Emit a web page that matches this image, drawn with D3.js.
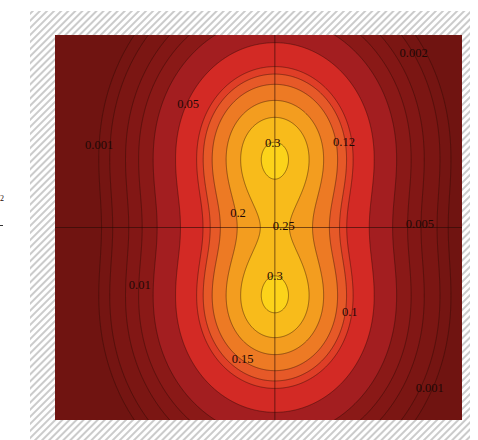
<!DOCTYPE html>
<html>
<head>
<meta charset="UTF-8">
<title>Contour plot</title>
<script src="https://d3js.org/d3.v7.min.js"></script>
<style>
  body { margin: 0; background: #fff; }
  svg { display: block; }
  .lbl { font-family: "Liberation Serif", "DejaVu Serif", serif; font-size: 12.5px; fill: #1e0805; }
</style>
</head>
<body>
<div id="chart"></div>
<script>
// axis ranges of the plot (data units)
const xDomain = [-4.23, 3.6];
const yDomain = [-3.7, 3.7];

// the two bumps of the surface
const peakX = [0, 0];
const peakY = [1.44, -1.44];
const peakHeight = [0.298, 0.298];
const spreadX = [1.0, 1.0];
const spreadY = [1.118, 1.118];

// contour levels and band colours (first colour = below lowest level)
const levels = [0.001, 0.002, 0.005, 0.01, 0.02, 0.05, 0.1, 0.12, 0.15, 0.2, 0.25, 0.3];
const bandColors = ["#701411", "#751512", "#7b1613", "#821715", "#8a1917", "#a31e20",
                    "#d32a25", "#df3e27", "#e65928", "#ed7a24", "#f39d1f", "#f8bb1b", "#fcd31a"];

// inline labels: text and where they sit (data units)
const labelText = ["0.001", "0.05", "0.3", "0.12", "0.002", "0.2", "0.25", "0.005", "0.01", "0.3", "0.1", "0.15", "0.001"];
const labelX = [-3.38, -1.67, -0.04, 1.33, 2.67, -0.71, 0.17, 2.79, -2.6, 0.0, 1.44, -0.62, 2.98];
const labelY = [1.58, 2.38, 1.62, 1.65, 3.35, 0.27, 0.02, 0.06, -1.1, -0.94, -1.62, -2.52, -3.08];

const width = 478, height = 440;
const plot = {left: 55, top: 35, right: 462, bottom: 420};

const svg = d3.select("#chart").append("svg")
  .attr("width", width).attr("height", height);

// hatched backdrop
const defs = svg.append("defs");
const pat = defs.append("pattern")
  .attr("id", "hatch")
  .attr("patternUnits", "userSpaceOnUse")
  .attr("width", 5).attr("height", 5)
  .attr("patternTransform", "rotate(45)");
pat.append("rect").attr("width", 5).attr("height", 5).attr("fill", "#fff");
pat.append("line").attr("x1", 1).attr("y1", 0).attr("x2", 1).attr("y2", 5)
  .attr("stroke", "#c2c2c2").attr("stroke-width", 1.7);

svg.append("rect")
  .attr("x", 30).attr("y", 11)
  .attr("width", 440).attr("height", 429)
  .attr("fill", "url(#hatch)");

defs.append("clipPath").attr("id", "clip")
  .append("rect")
  .attr("x", plot.left).attr("y", plot.top)
  .attr("width", plot.right - plot.left).attr("height", plot.bottom - plot.top);

const x = d3.scaleLinear().domain(xDomain).range([plot.left, plot.right]);
const y = d3.scaleLinear().domain(yDomain).range([plot.bottom, plot.top]);

function surface(u, v) {
  let s = 0;
  for (let k = 0; k < peakX.length; k++) {
    s += peakHeight[k] * Math.exp(
      -((u - peakX[k]) ** 2) / (2 * spreadX[k] ** 2)
      - ((v - peakY[k]) ** 2) / (2 * spreadY[k] ** 2));
  }
  return s;
}

// sample on a pixel grid a bit larger than the plot so edge rings are clipped away
const pad = 3;
const gx0 = plot.left - pad, gy0 = plot.top - pad;
const nx = plot.right - plot.left + 2 * pad;
const ny = plot.bottom - plot.top + 2 * pad;
const values = new Float64Array(nx * ny);
for (let j = 0; j < ny; j++) {
  const v = y.invert(gy0 + j + 0.5);
  for (let i = 0; i < nx; i++) {
    values[j * nx + i] = surface(x.invert(gx0 + i + 0.5), v);
  }
}

const contours = d3.contours().size([nx, ny]).thresholds(levels)(values);
const path = d3.geoPath(d3.geoTransform({
  point(px, py) { this.stream.point(gx0 + px, gy0 + py); }
}));

const g = svg.append("g").attr("clip-path", "url(#clip)");

g.append("rect")
  .attr("x", plot.left).attr("y", plot.top)
  .attr("width", plot.right - plot.left).attr("height", plot.bottom - plot.top)
  .attr("fill", bandColors[0]);

g.selectAll("path.band")
  .data(contours)
  .join("path")
  .attr("class", "band")
  .attr("d", path)
  .attr("fill", (d, i) => bandColors[i + 1]);

g.selectAll("path.line")
  .data(contours)
  .join("path")
  .attr("class", "line")
  .attr("d", path)
  .attr("fill", "none")
  .attr("stroke", "rgba(40,10,4,0.45)")
  .attr("stroke-width", 1);

// axes through the origin
g.append("line")
  .attr("x1", x(0)).attr("x2", x(0))
  .attr("y1", plot.top).attr("y2", plot.bottom)
  .attr("stroke", "rgba(40,10,5,0.6)").attr("stroke-width", 1);
g.append("line")
  .attr("x1", plot.left).attr("x2", plot.right)
  .attr("y1", y(0)).attr("y2", y(0))
  .attr("stroke", "rgba(40,10,5,0.6)").attr("stroke-width", 1);

g.selectAll("text.lbl")
  .data(labelText)
  .join("text")
  .attr("class", "lbl")
  .attr("x", (d, i) => x(labelX[i]))
  .attr("y", (d, i) => y(labelY[i]))
  .attr("text-anchor", "middle")
  .attr("dominant-baseline", "central")
  .text(d => d);

// small marks at the far left edge
svg.append("text")
  .attr("x", 0).attr("y", 201)
  .attr("class", "lbl")
  .style("font-size", "8px")
  .text("2");
svg.append("line")
  .attr("x1", 0).attr("x2", 3).attr("y1", 225.5).attr("y2", 225.5)
  .attr("stroke", "#333");
</script>
</body>
</html>
